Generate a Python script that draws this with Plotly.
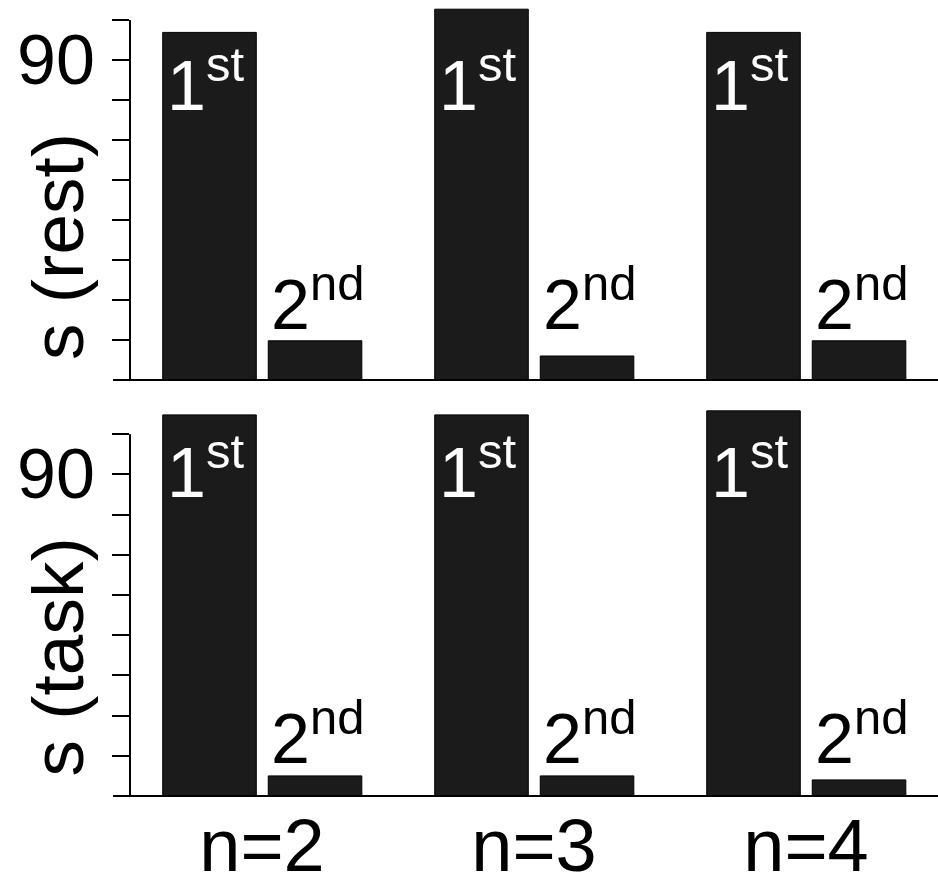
import plotly.graph_objects as go
from plotly.subplots import make_subplots

# Data
groups = ["n=2", "n=3", "n=4"]
rest_first = [96.9, 102.7, 96.9]
rest_second = [19.8, 16.0, 19.8]
task_first = [104.8, 104.8, 105.8]
task_second = [15.0, 15.0, 14.0]
ytick_vals = [20, 30, 40, 50, 60, 70, 80, 90, 100]
ytick_label_val = 90
panel_titles = ["s (rest)", "s (task)"]

FONT = "Liberation Sans, Arial, Helvetica, sans-serif"
BAR = "#1b1b1b"
W, H = 938, 875
L_MARGIN, B_MARGIN = 130, 79
plot_w = W - L_MARGIN
plot_h = H - B_MARGIN

x_pos = list(range(len(groups)))
x_range = [-0.4853, 2.4853]
y_ranges = [[10, 105], [10, 108.5]]

fig = make_subplots(rows=2, cols=1, shared_xaxes=False, vertical_spacing=0)

bar_w = 0.344
offsets = [-0.365, 0.023]
for row, (first, second) in enumerate([(rest_first, rest_second), (task_first, task_second)], start=1):
    for vals, off in zip([first, second], offsets):
        fig.add_trace(go.Bar(x=x_pos, y=vals, width=bar_w, offset=off,
                             marker=dict(color=BAR, line=dict(color="#000", width=1)),
                             showlegend=False, hoverinfo="skip"), row=row, col=1)

fig.update_layout(
    width=W, height=H, barmode="overlay",
    margin=dict(l=L_MARGIN, r=0, t=0, b=B_MARGIN, autoexpand=False),
    paper_bgcolor="white", plot_bgcolor="white",
    font=dict(family=FONT, color="black"),
    xaxis=dict(domain=[0, 1], range=x_range, showgrid=False, zeroline=False, automargin=False,
               showline=False, showticklabels=False, ticks=""),
    xaxis2=dict(domain=[0, 1], range=x_range, showgrid=False, zeroline=False, automargin=False,
                showline=False, ticks="", tickvals=x_pos, ticktext=groups,
                tickfont=dict(size=74, family=FONT), ticklabelstandoff=0),
    yaxis=dict(domain=[416 / plot_h, 1.0], range=y_ranges[0]),
    yaxis2=dict(domain=[0, 396 / plot_h], range=y_ranges[1]),
)
for ax in ("yaxis", "yaxis2"):
    fig.layout[ax].update(showgrid=False, zeroline=False, showline=False, automargin=False,
                          ticks="outside", ticklen=17, tickwidth=2, tickcolor="black",
                          tickvals=ytick_vals, showticklabels=False)

# Axis lines: y spine from the baseline up to the top tick, x baseline extended under the ticks
for i, yr in enumerate(y_ranges):
    yref = "y domain" if i == 0 else "y2 domain"
    top = (max(ytick_vals) - yr[0]) / (yr[1] - yr[0])
    fig.add_shape(type="line", xref="paper", yref=yref, x0=0, x1=0, y0=0, y1=top,
                  line=dict(color="black", width=2))
    fig.add_shape(type="line", xref="paper", yref=yref, x0=-17 / plot_w, x1=1, y0=0, y1=0,
                  line=dict(color="black", width=2))

# Tick label and rotated panel titles
for i, yr in enumerate(y_ranges):
    yref = "y" if i == 0 else "y2"
    fig.add_annotation(text=str(ytick_label_val), xref="paper", yref=yref,
                       x=(97 - L_MARGIN) / plot_w, y=ytick_label_val,
                       xanchor="right", yanchor="middle", showarrow=False,
                       font=dict(size=70, family=FONT, color="black"))
    title_y = 43.25 if i == 0 else 44.45
    fig.add_annotation(text=panel_titles[i], xref="paper", yref=yref,
                       x=(57 - L_MARGIN) / plot_w, y=title_y, textangle=-90,
                       xanchor="center", yanchor="middle", showarrow=False,
                       font=dict(size=73, family=FONT, color="black"))

# Rank labels on and above the bars
first_label_y = [73.2, 80.1]
second_label_y = [18.5, 14.0]
for i in range(2):
    yref = "y" if i == 0 else "y2"
    for k in x_pos:
        fig.add_annotation(text="1<sup>st</sup>", xref="x" if i == 0 else "x2", yref=yref,
                           x=k - 0.357, y=first_label_y[i], xanchor="left", yanchor="bottom",
                           showarrow=False, font=dict(size=70, family=FONT, color="white"))
        fig.add_annotation(text="2<sup>nd</sup>", xref="x" if i == 0 else "x2", yref=yref,
                           x=k + 0.026, y=second_label_y[i], xanchor="left", yanchor="bottom",
                           showarrow=False, font=dict(size=70, family=FONT, color="black"))

fig.write_html("out.html")
